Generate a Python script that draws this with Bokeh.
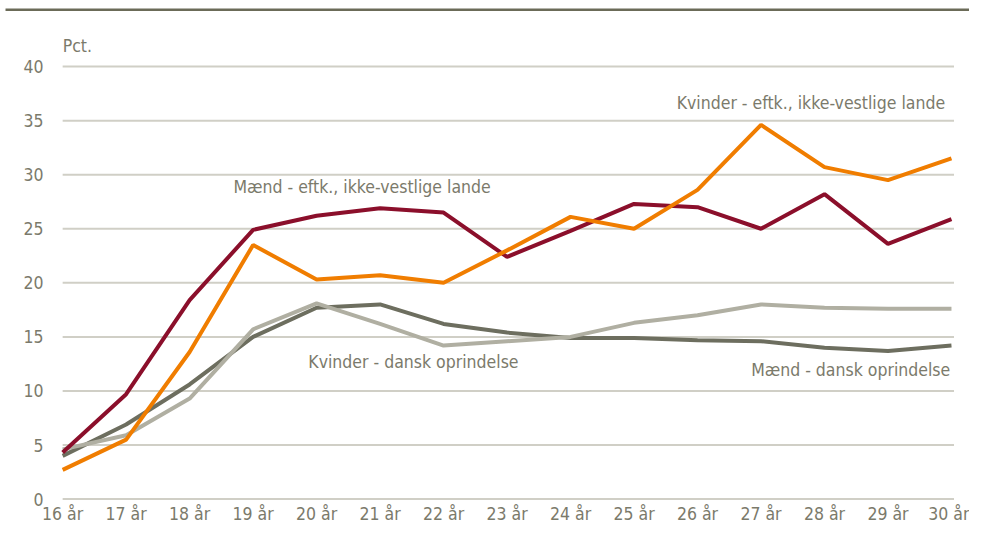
from bokeh.plotting import figure
from bokeh.models import Range1d, FixedTicker, Label, BoxAnnotation
from bokeh.core.properties import value
from bokeh.embed import file_html
from bokeh.resources import INLINE

ages = list(range(16, 31))
age_labels = [f"{a} år" for a in ages]

maend_eftk = [4.3, 9.7, 18.4, 24.9, 26.2, 26.9, 26.5, 22.4, 24.8, 27.3, 27.0, 25.0, 28.2, 23.6, 25.9]
kvinder_eftk = [2.7, 5.5, 13.6, 23.5, 20.3, 20.7, 20.0, 23.0, 26.1, 25.0, 28.6, 34.6, 30.7, 29.5, 31.5]
maend_dansk = [4.0, 6.9, 10.6, 15.0, 17.7, 18.0, 16.2, 15.4, 14.9, 14.9, 14.7, 14.6, 14.0, 13.7, 14.2]
kvinder_dansk = [4.6, 5.9, 9.3, 15.7, 18.1, 16.2, 14.2, 14.6, 15.0, 16.3, 17.0, 18.0, 17.7, 17.6, 17.6]
y_ticks = [0, 5, 10, 15, 20, 25, 30, 35, 40]
y_tick_labels = [str(t) for t in y_ticks]

FONT = "DejaVu Sans Condensed"
FS = "17.5px"
TXT = "#7b7a6b"

# frame covers the whole canvas except a thin x-axis band at the bottom
p = figure(width=969, height=526, output_backend="svg", toolbar_location=None,
           x_range=Range1d(15.021, 30.284), y_range=Range1d(-0.778, 46.11),
           min_border_left=0, min_border_right=0, min_border_top=0, min_border_bottom=16)
p.outline_line_color = None
p.background_fill_color = "white"
p.border_fill_color = "white"

p.yaxis.visible = False
p.xaxis.ticker = FixedTicker(ticks=ages)
p.xaxis.major_label_overrides = {a: l for a, l in zip(ages, age_labels)}
p.xaxis.axis_line_color = None
p.xaxis.major_tick_line_color = None
p.xaxis.minor_tick_line_color = None
p.xaxis.major_tick_out = 0
p.xaxis.major_tick_in = 0
p.xaxis.minor_tick_out = 0
p.xaxis.major_label_text_font = FONT
p.xaxis.major_label_text_font_size = FS
p.xaxis.major_label_text_color = TXT
p.xaxis.major_label_standoff = -4
p.xgrid.grid_line_color = None
p.ygrid.grid_line_color = None

# horizontal grid lines between first and last age
p.segment(x0=[ages[0]] * len(y_ticks), x1=[ages[-1] + 0.04] * len(y_ticks),
          y0=y_ticks, y1=y_ticks, line_color="#d0cfc6", line_width=2)
# y tick labels
p.text(x=[15.70] * len(y_ticks), y=y_ticks, text=y_tick_labels,
       text_font=value(FONT), text_font_size=FS, text_color=TXT,
       text_align="right", text_baseline="middle")

series = [
    (maend_dansk, "#6d6e5f"),
    (kvinder_dansk, "#b0afa2"),
    (maend_eftk, "#8b0f2b"),
    (kvinder_eftk, "#f07d00"),
]
for vals, col in series:
    p.line(ages, vals, line_color=col, line_width=4)

labels = [
    ("Pct.", 16.0, 41.9, "left"),
    ("Mænd - eftk., ikke-vestlige lande", 18.69, 28.9, "left"),
    ("Kvinder - eftk., ikke-vestlige lande", 29.9, 36.6, "right"),
    ("Kvinder - dansk oprindelse", 19.87, 12.7, "left"),
    ("Mænd - dansk oprindelse", 29.98, 11.9, "right"),
]
for txt, x, y, al in labels:
    p.add_layout(Label(x=x, y=y, text=txt, text_font=FONT, text_font_size=FS,
                       text_color=TXT, text_align=al, text_baseline="middle"))

# dark rule along the top edge
p.add_layout(BoxAnnotation(left=15.10, bottom=45.14, top=45.37, fill_color="#6b6b58",
                           fill_alpha=1, line_color=None))

open("out.html", "w").write(file_html(p, INLINE))
